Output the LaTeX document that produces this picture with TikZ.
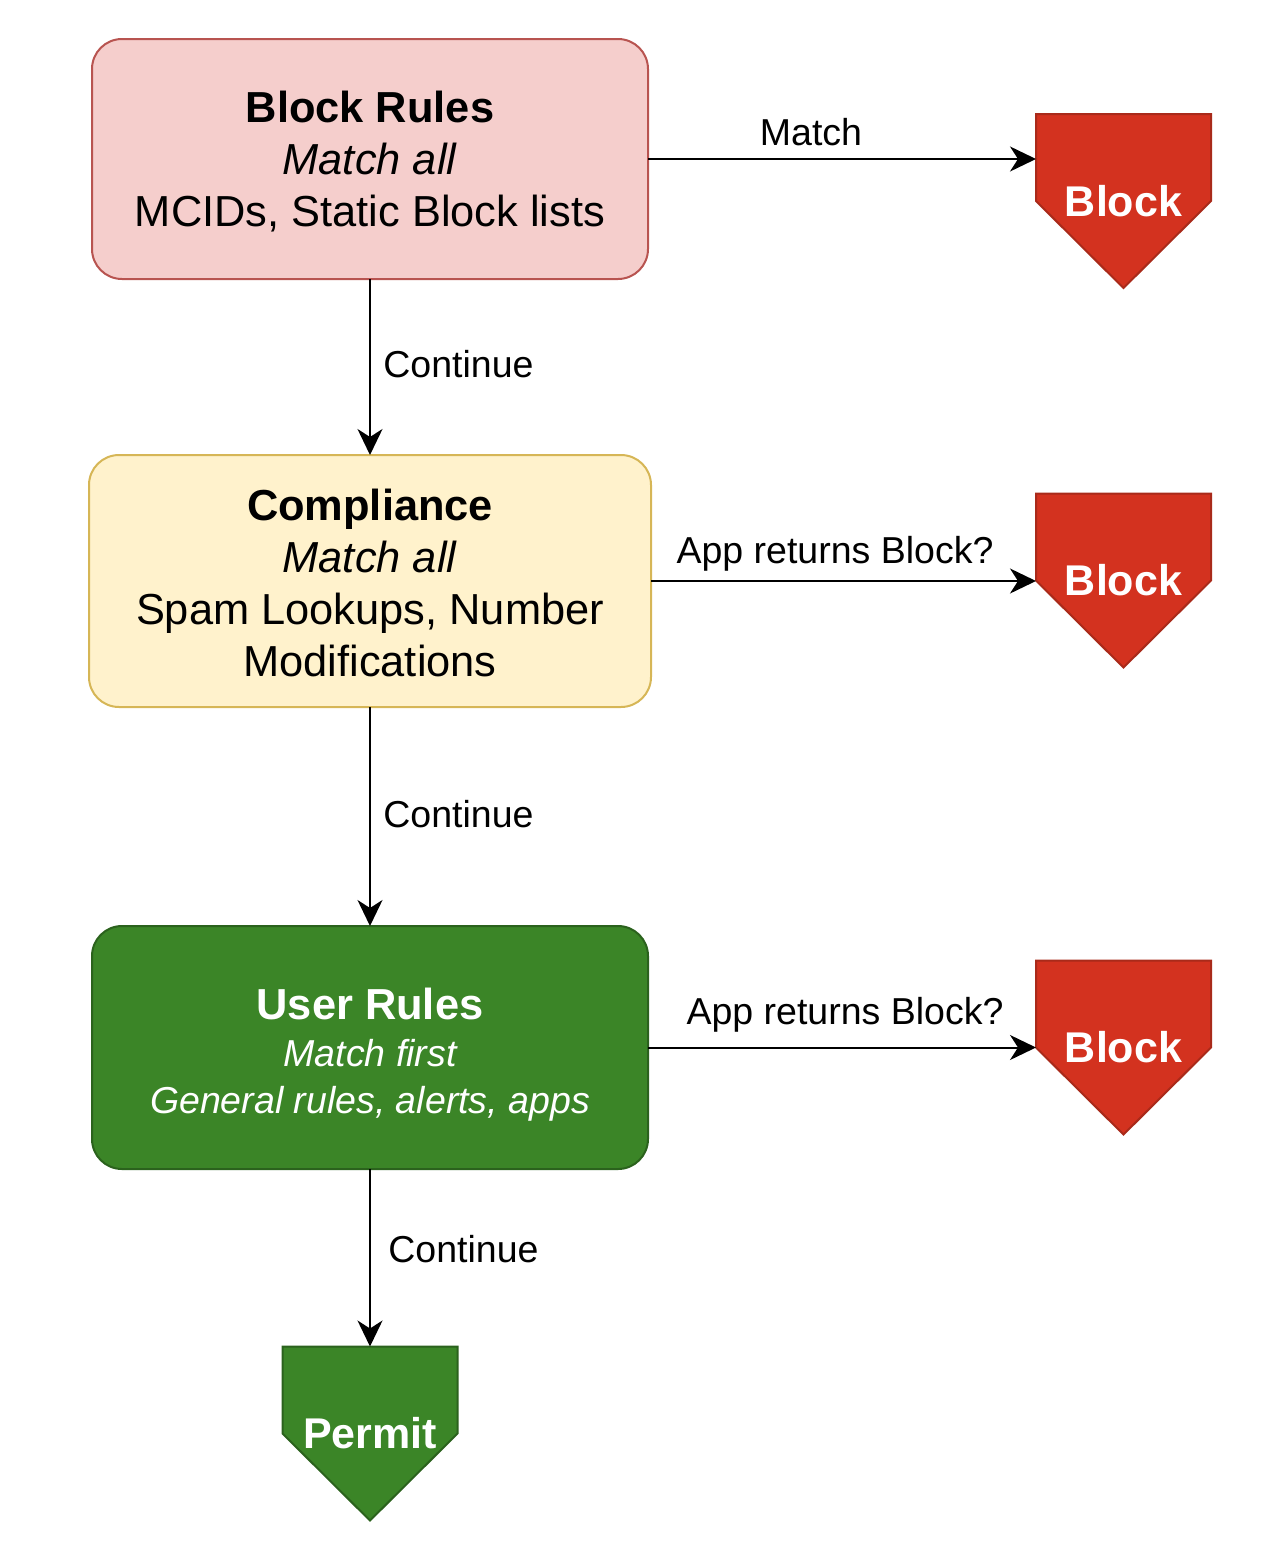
\documentclass[tikz,border=0pt]{standalone}
\usepackage{fontspec}
\setmainfont{Liberation Sans}
\usetikzlibrary{arrows.meta,backgrounds}
\definecolor{pinkfill}{HTML}{F5CECC}
\definecolor{pinkline}{HTML}{B85450}
\definecolor{yelfill}{HTML}{FFF2CC}
\definecolor{yelline}{HTML}{D6B656}
\definecolor{grnfill}{HTML}{3B8527}
\definecolor{grnline}{HTML}{2B621D}
\definecolor{redfill}{HTML}{D3321F}
\definecolor{redline}{HTML}{A92A1A}
\tikzset{
  box/.style={draw, line width=1pt, rounded corners=15pt, inner sep=0pt, outer sep=0pt},
  boxtext/.style={inner sep=0pt, align=center, font=\fontsize{21.7}{26}\selectfont},
  offpage/.style={inner sep=0pt, outer sep=0pt, minimum width=87.5pt, minimum height=87pt,
    text=white, font=\fontsize{21.5}{26}\selectfont\bfseries},
  arr/.style={line width=1pt, -{Stealth[length=13pt,width=12.5pt,inset=4pt]}},
  lbl/.style={inner sep=0pt, font=\fontsize{18.75}{22.5}\selectfont},
  pent/.style={line width=1pt, line join=miter},
}
\begin{document}
\begin{tikzpicture}[x=0.5pt,y=-0.5pt]
\useasboundingbox (0,0) rectangle (1268,1542);

% main boxes
\node[box, fill=pinkfill, draw=pinkline, minimum width=278pt, minimum height=120pt] (br) at (370,159) {};
\node[boxtext] (brt) at (370,162)
  {\textbf{Block Rules}\\ \textit{Match all}\\ MCIDs, Static Block lists};
\node[box, fill=yelfill, draw=yelline, minimum width=281pt, minimum height=126pt] (cm) at (370,581) {};
\node[boxtext] (cmt) at (370,582.5)
  {\textbf{Compliance}\\ \textit{Match all}\\ Spam Lookups, Number\\ Modifications};
\node[box, fill=grnfill, draw=grnline, minimum width=278pt, minimum height=121.5pt] (ur) at (370,1047.5) {};
\node[boxtext, text=white] (urt) at (370,1054.5)
  {\textbf{User Rules}\\[-2.5pt] {\fontsize{18.75}{22.5}\selectfont\itshape Match first}\\[-2.5pt]
   {\fontsize{18.75}{22.5}\selectfont\itshape General rules, alerts, apps}};

% off-page shapes
\node[offpage] (bk1) at (1123.5,201) {Block};
\node[offpage] (bk2) at (1123.5,580.5) {Block};
\node[offpage] (bk3) at (1123.5,1047.5) {Block};
\node[offpage] (pm) at (370,1433.5) {Permit};

\begin{scope}[on background layer]
  \foreach \n in {bk1,bk2,bk3}{
    \filldraw[pent, fill=redfill, draw=redline] (\n.north west) -- (\n.north east) -- (\n.east) -- (\n.south) -- (\n.west) -- cycle;
  }
  \filldraw[pent, fill=grnfill, draw=grnline] (pm.north west) -- (pm.north east) -- (pm.east) -- (pm.south) -- (pm.west) -- cycle;
\end{scope}

% connectors
\draw[arr] (br.east) -- (bk1.west |- br.east);
\draw[arr] (br.south) -- (cm.north);
\draw[arr] (cm.east) -- (bk2.west |- cm.east);
\draw[arr] (cm.south) -- (ur.north);
\draw[arr] (ur.east) -- (bk3.west |- ur.east);
\draw[arr] (ur.south) -- (pm.north);

% labels
\node[lbl, anchor=base] (l1) at (811,145) {Match};
\node[lbl, anchor=base west] (l2) at (383,377) {Continue};
\node[lbl, anchor=base] (l3) at (835,563) {App returns Block?};
\node[lbl, anchor=base west] (l4) at (383,827) {Continue};
\node[lbl, anchor=base] (l5) at (845,1024) {App returns Block?};
\node[lbl, anchor=base west] (l6) at (388,1262) {Continue};
\end{tikzpicture}
\end{document}
